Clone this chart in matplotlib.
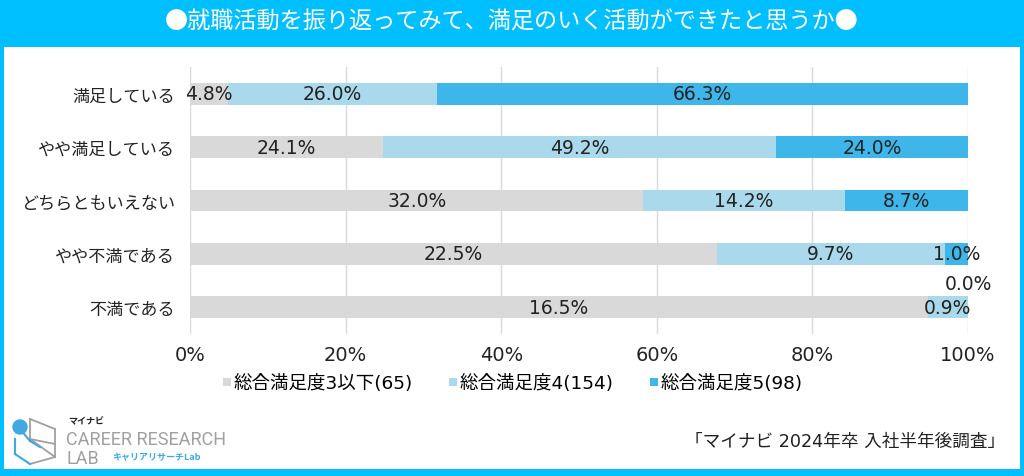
import matplotlib
matplotlib.use("Agg")
import matplotlib.pyplot as plt
from matplotlib.patches import Rectangle, Ellipse
from matplotlib.lines import Line2D
import numpy as np

plt.rcParams['font.family'] = ['Noto Sans CJK JP', 'DejaVu Sans']
MIX = ['DejaVu Sans', 'Noto Sans CJK JP']

title = "●就職活動を振り返ってみて、満足のいく活動ができたと思うか●"
categories = ["満足している", "やや満足している", "どちらともいえない", "やや不満である", "不満である"]
series_names = ["総合満足度3以下(65)", "総合満足度4(154)", "総合満足度5(98)"]
values = {
    "総合満足度3以下(65)": [4.8, 24.1, 32.0, 22.5, 16.5],
    "総合満足度4(154)": [26.0, 49.2, 14.2, 9.7, 0.9],
    "総合満足度5(98)": [66.3, 24.0, 8.7, 1.0, 0.0],
}
colors = ["#D9D9D9", "#A9D9EB", "#3FB6E9"]
xticks = [0, 20, 40, 60, 80, 100]
xtick_labels = ["0%", "20%", "40%", "60%", "80%", "100%"]
source = "「マイナビ 2024年卒 入社半年後調査」"

W, H = 1024, 477
fig = plt.figure(figsize=(W / 100, H / 100), dpi=100)
border = "#00BFFF"
fig.patch.set_facecolor(border)
fig.add_artist(Rectangle((4 / W, 7 / H), (W - 8) / W, (H - 48 - 7) / H,
                         transform=fig.transFigure, facecolor="white", edgecolor="none", zorder=0))
fig.text(0.5, 1 - 22 / H, title, ha="center", va="center", color="white", fontsize=16.7)

ax = fig.add_axes([190 / W, (H - 335) / H, 778 / W, 267 / H])
ax.set_facecolor("none")

arr = np.array([values[s] for s in series_names])
totals = arr.sum(axis=0)
norm = arr / totals * 100
y = np.arange(len(categories))
left = np.zeros(len(categories))
for i, s in enumerate(series_names):
    ax.barh(y, norm[i], left=left, height=0.41, color=colors[i], zorder=2, label=s)
    for j in range(len(categories)):
        cx = left[j] + norm[i][j] / 2
        cy = y[j]
        if arr[i][j] == 0:
            cx = 100
            cy = y[j] - 0.44
        ax.text(cx, cy, f"{arr[i][j]:.1f}%", ha="center", va="center", fontsize=13.5,
                color="#222222", zorder=3, family=MIX)
    left += norm[i]

ax.set_xlim(0, 100)
ax.set_ylim(4.5, -0.5)
ax.set_xticks(xticks)
ax.set_xticklabels(xtick_labels, fontsize=14, color="#222222", family=MIX)
ax.set_yticks(y)
ax.set_yticklabels(categories, fontsize=12.3, color="#222222")
ax.tick_params(length=0)
ax.tick_params(axis="y", pad=11)
ax.tick_params(axis="x", pad=8)
ax.grid(axis="x", color="#D9D9D9", linewidth=1, zorder=0)
for sp in ax.spines.values():
    sp.set_visible(False)

handles = [Line2D([], [], marker="s", linestyle="none", markersize=6, color=c, markeredgewidth=0) for c in colors]
fig.legend(handles, series_names, loc="center", bbox_to_anchor=(512 / W, 1 - 384 / H), ncol=3,
           frameon=False, prop={"family": MIX, "size": 13.3}, handletextpad=0.05,
           columnspacing=1.9, handlelength=0.6)

fig.text(1005 / W, 1 - 442 / H, source, ha="right", va="center", fontsize=12.7, color="#222222",
         family=MIX)

# logo
grey = "#A0A0A0"
lb = "#3FA9E0"
def P(x, yy):
    return (x / W, 1 - yy / H)
cube = [((30, 420), (55, 430)), ((55, 430), (55, 458)), ((55, 458), (30, 465)), ((30, 420), (30, 440)),
        ((30, 440), (55, 445)), ((30, 440), (55, 458))]
for (a, b) in cube:
    fig.add_artist(Line2D([P(*a)[0], P(*b)[0]], [P(*a)[1], P(*b)[1]], color=grey, lw=1.3,
                          transform=fig.transFigure))
blue_lines = [((20, 430), (30, 442)), ((30, 442), (40, 448)), ((15, 440), (15, 455)), ((15, 455), (30, 465))]
for (a, b) in blue_lines:
    fig.add_artist(Line2D([P(*a)[0], P(*b)[0]], [P(*a)[1], P(*b)[1]], color=lb, lw=1.5,
                          transform=fig.transFigure))
fig.add_artist(Ellipse(P(20, 428), 14 / W, 14 / H, transform=fig.transFigure, color=lb))
fig.text(68 / W, 1 - 422 / H, "マイナビ", fontsize=6.5, fontweight="bold", color="#222222", va="center")
fig.text(66 / W, 1 - 440 / H, "CAREER RESEARCH", fontsize=13, color=grey, va="center",
         family=["Roboto", "DejaVu Sans"])
fig.text(66 / W, 1 - 459 / H, "LAB", fontsize=13, color=grey, va="center", family=["Roboto", "DejaVu Sans"])
fig.text(112 / W, 1 - 458 / H, "キャリアリサーチLab", fontsize=6.5, fontweight="bold", color=lb, va="center")

fig.savefig("out.png", dpi=100, facecolor=fig.get_facecolor())
